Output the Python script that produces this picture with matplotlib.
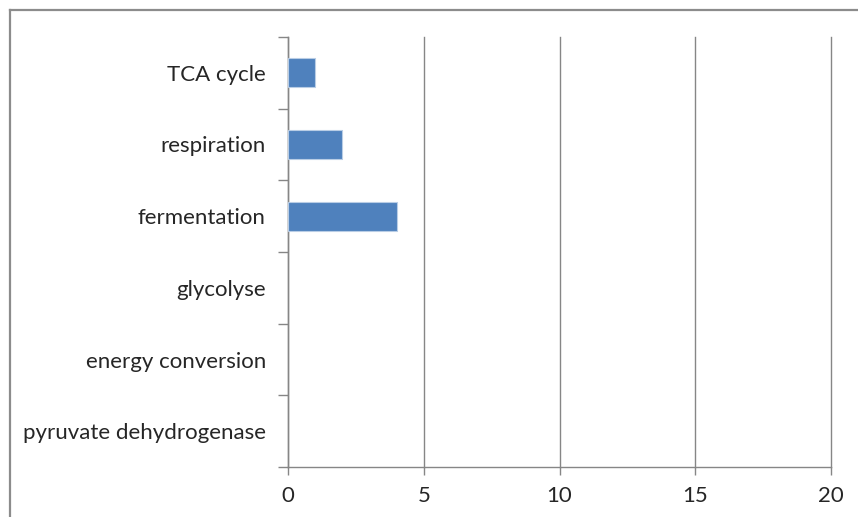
import numpy as np
import matplotlib.pyplot as plt
from matplotlib.lines import Line2D

# categories bottom -> top
categories = ['pyruvate dehydrogenase', 'energy conversion', 'glycolyse',
              'fermentation', 'respiration', 'TCA cycle']
counts = [0, 0, 0, 4, 2, 1]
x_ticks = [0, 5, 10, 15, 20]

plt.rcParams['font.family'] = ['Lato', 'DejaVu Sans']

fig = plt.figure(figsize=(8.58, 5.17), dpi=100)
ax = fig.add_axes([288 / 858, 50 / 517, 543 / 858, 430 / 517])

pos = np.arange(len(categories))
ax.barh(pos, counts, height=0.4, color='#4F81BD', edgecolor='#B9CDE5',
        linewidth=[0.8 if c else 0 for c in counts], zorder=3)

ax.set_xlim(0, 20)
ax.set_ylim(-0.5, len(categories) - 0.5)
ax.set_xticks(x_ticks)
ax.set_xticklabels([str(t) for t in x_ticks], fontsize=16, color='#262626')

# category labels at bar centres, ticks at boundaries
ax.set_yticks(pos)
ax.set_yticklabels(categories, fontsize=16, color='#262626')
ax.set_yticks(np.arange(len(categories) + 1) - 0.5, minor=True)
ax.tick_params(axis='y', which='major', length=0, pad=16)
ax.tick_params(axis='y', which='minor', length=7, width=1, color='#868686')
ax.tick_params(axis='x', length=6, width=1, color='#868686', pad=8)

ax.grid(axis='x', color='#868686', linewidth=1, zorder=0)
for gl in ax.get_xgridlines():
    gl.set_clip_on(False)
for side in ['top', 'right']:
    ax.spines[side].set_visible(False)
for side in ['left', 'bottom']:
    ax.spines[side].set_color('#868686')
    ax.spines[side].set_linewidth(1)

# chart-area border (top and left visible)
fig.add_artist(Line2D([9.5 / 858, 1], [1 - 10 / 517, 1 - 10 / 517],
                      transform=fig.transFigure, color='#8C8C8C', linewidth=1.6))
fig.add_artist(Line2D([9.5 / 858, 9.5 / 858], [0, 1 - 10 / 517],
                      transform=fig.transFigure, color='#8C8C8C', linewidth=1.6))

fig.savefig('out.png', dpi=100)
